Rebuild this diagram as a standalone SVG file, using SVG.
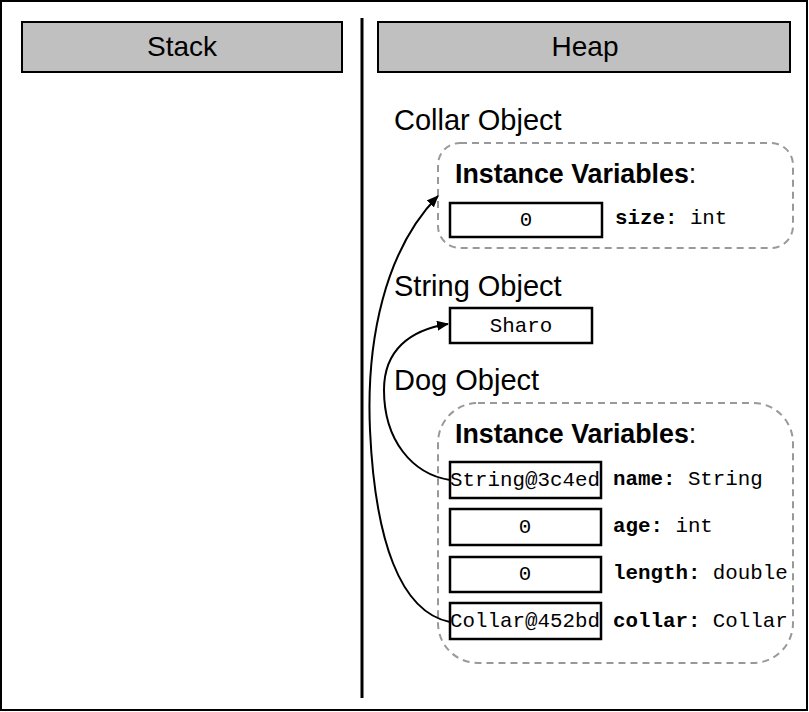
<svg xmlns="http://www.w3.org/2000/svg" width="809" height="712" viewBox="0 0 809 712">
  <defs>
    <style>
      .frame { fill: #ffffff; stroke: #000000; stroke-width: 2; }
      .header { fill: #c0c0c0; stroke: #000000; stroke-width: 2; }
      .header-text { font-family: "Liberation Sans", Arial, sans-serif; font-size: 28px; text-anchor: middle; fill: #000000; }
      .title { font-family: "Liberation Sans", Arial, sans-serif; font-size: 29px; fill: #000000; }
      .object { fill: none; stroke: #999999; stroke-width: 2; stroke-dasharray: 7 5; }
      .iv { font-family: "Liberation Sans", Arial, sans-serif; font-size: 26.8px; fill: #000000; }
      .iv-bold { font-weight: bold; }
      .cell { fill: #ffffff; stroke: #000000; stroke-width: 2.5; }
      .val { font-family: "Liberation Mono", "Courier New", monospace; font-size: 20.8px; fill: #000000; text-anchor: middle; }
      .field { font-family: "Liberation Mono", "Courier New", monospace; font-size: 20.8px; fill: #000000; }
      .field-name { font-weight: bold; }
      .ref { fill: none; stroke: #000000; stroke-width: 2; }
    </style>
    <marker id="arrow" viewBox="0 0 12 10" refX="11" refY="5" markerWidth="12" markerHeight="10" markerUnits="userSpaceOnUse" orient="auto">
      <path d="M0,0 L12,5 L0,10 z" fill="#000000"/>
    </marker>
  </defs>

  <!-- outer frame -->
  <rect class="frame" x="1" y="1" width="806" height="709"/>

  <!-- column divider -->
  <line x1="362" y1="18" x2="362" y2="698" stroke="#000000" stroke-width="3"/>

  <g id="stack-header">
    <rect class="header" x="22" y="22" width="320" height="50"/>
    <text class="header-text" x="182" y="56">Stack</text>
  </g>

  <g id="heap-header">
    <rect class="header" x="378" y="22" width="412" height="50"/>
    <text class="header-text" x="585" y="56">Heap</text>
  </g>

  <!-- Collar object -->
  <g id="collar-object">
    <text class="title" x="394" y="130">Collar Object</text>
    <rect class="object" x="438" y="143" width="355" height="105" rx="22" ry="22"/>
    <text class="iv" x="455" y="183"><tspan class="iv-bold">Instance Variables</tspan>:</text>
    <rect class="cell" x="450" y="203" width="152" height="34"/>
    <text class="val" x="526" y="226">0</text>
    <text class="field" x="615" y="224"><tspan class="field-name">size:</tspan> int</text>
  </g>

  <!-- String object -->
  <g id="string-object">
    <text class="title" x="394" y="296">String Object</text>
    <rect class="cell" x="450" y="308" width="142" height="35"/>
    <text class="val" x="521" y="332">Sharo</text>
  </g>

  <!-- Dog object -->
  <g id="dog-object">
    <text class="title" x="394" y="390">Dog Object</text>
    <rect class="object" x="438" y="403" width="355" height="260" rx="40" ry="40"/>
    <text class="iv" x="455" y="443"><tspan class="iv-bold">Instance Variables</tspan>:</text>

    <rect class="cell" x="450" y="462" width="151" height="36"/>
    <text class="val" x="525" y="486">String@3c4ed</text>
    <text class="field" x="613" y="485"><tspan class="field-name">name:</tspan> String</text>

    <rect class="cell" x="450" y="509" width="151" height="36"/>
    <text class="val" x="525" y="533">0</text>
    <text class="field" x="613" y="532"><tspan class="field-name">age:</tspan> int</text>

    <rect class="cell" x="450" y="557" width="151" height="35"/>
    <text class="val" x="525" y="580">0</text>
    <text class="field" x="613" y="579"><tspan class="field-name">length:</tspan> double</text>

    <rect class="cell" x="450" y="603" width="151" height="36"/>
    <text class="val" x="525" y="627">Collar@452bd</text>
    <text class="field" x="613" y="627"><tspan class="field-name">collar:</tspan> Collar</text>
  </g>

  <!-- references -->
  <g id="connectors">
    <path class="ref" d="M450,480 C412,474 384,440 384,390 C384,350 410,330 448,324" marker-end="url(#arrow)"/>
    <path class="ref" d="M450,622 C400,612 375,540 370,430 C366,340 385,250 438,196" marker-end="url(#arrow)"/>
  </g>
</svg>
